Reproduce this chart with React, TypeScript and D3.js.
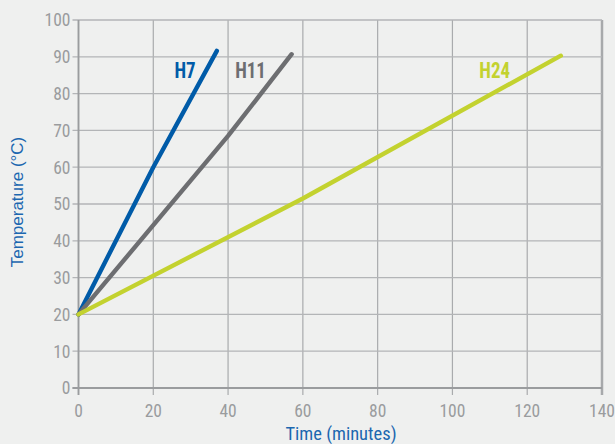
import React from "react";
import * as d3 from "d3";

const xTicks = [0, 20, 40, 60, 80, 100, 120, 140];
const yTicks = [0, 10, 20, 30, 40, 50, 60, 70, 80, 90, 100];
const seriesNames = ["H7", "H11", "H24"];
const h7 = [[0, 20], [20, 60], [37, 91.6]];
const h11 = [[0, 20], [40, 68.5], [57, 90.7]];
const h24 = [[0, 20], [60, 51.5], [129, 90.3]];
const seriesData = [h7, h11, h24];
const seriesColors = ["#005ba8", "#6d6e71", "#c3d22f"];
const labelPos = [[28.5, 84.2], [46, 84.2], [111.3, 84.2]];

const W = 615, H = 444;
const M = { left: 78.5, right: 602, top: 20, bottom: 388 };
const FONT = "'Liberation Sans Narrow', 'Roboto Condensed', 'Arial Narrow', Roboto, sans-serif";

export default function App() {
  const x = d3.scaleLinear().domain([0, 140]).range([M.left, M.right]);
  const y = d3.scaleLinear().domain([0, 100]).range([M.bottom, M.top]);
  const line = d3.line<number[]>().x(d => x(d[0])).y(d => y(d[1]));
  return (
    <svg width={W} height={H} style={{ position: "absolute", left: 0, top: 0, background: "#eff0ef" }}>
      <rect x={0} y={0} width={W} height={H} fill="#eff0ef" />
      {xTicks.map(t => (
        <line key={"gx" + t} x1={x(t)} x2={x(t)} y1={M.top} y2={M.bottom + 7}
          stroke={t === 140 ? "#a7a9ab" : "#a9abad"} strokeWidth={t === 140 ? 2.5 : 1.2} />
      ))}
      {yTicks.map(t => (
        <line key={"gy" + t} x1={M.left - 6} x2={M.right} y1={y(t)} y2={y(t)}
          stroke="#b3b5b7" strokeWidth={1.3} />
      ))}
      <line x1={M.left} x2={M.left} y1={M.top} y2={M.bottom + 7} stroke="#9a9c9e" strokeWidth={1.8} />
      <line x1={M.left - 6} x2={M.right} y1={M.bottom} y2={M.bottom} stroke="#9a9c9e" strokeWidth={1.8} />
      {yTicks.map(t => (
        <text key={"ly" + t} x={M.left - 8} y={y(t)} dy="0.36em" textAnchor="end"
          fontFamily={FONT} fontSize={17.5} fill="#9a9c9e">{t}</text>
      ))}
      {xTicks.map(t => (
        <text key={"lx" + t} x={x(t)} y={M.bottom + 29} textAnchor="middle"
          fontFamily={FONT} fontSize={17.5} fill="#9a9c9e">{t}</text>
      ))}
      {seriesData.map((s, i) => (
        <path key={"s" + i} d={line(s) || ""} fill="none" stroke={seriesColors[i]}
          strokeWidth={4.4} strokeLinecap="round" strokeLinejoin="round" />
      ))}
      {seriesNames.map((n, i) => (
        <text key={"n" + i} transform={`translate(${x(labelPos[i][0])},${y(labelPos[i][1])}) scale(0.88,1)`}
          textAnchor="middle" fontFamily={FONT} fontSize={21.5} fontWeight="bold" fill={seriesColors[i]}>{n}</text>
      ))}
      <text transform={`translate(23,${202}) rotate(-90)`} textAnchor="middle"
        fontFamily="'Liberation Sans', Arial, sans-serif" fontSize={17} fill="#1c67b0">Temperature (°C)</text>
      <text x={341} y={440} textAnchor="middle"
        fontFamily={FONT} fontSize={18.5} fill="#1c67b0">Time (minutes)</text>
    </svg>
  );
}
